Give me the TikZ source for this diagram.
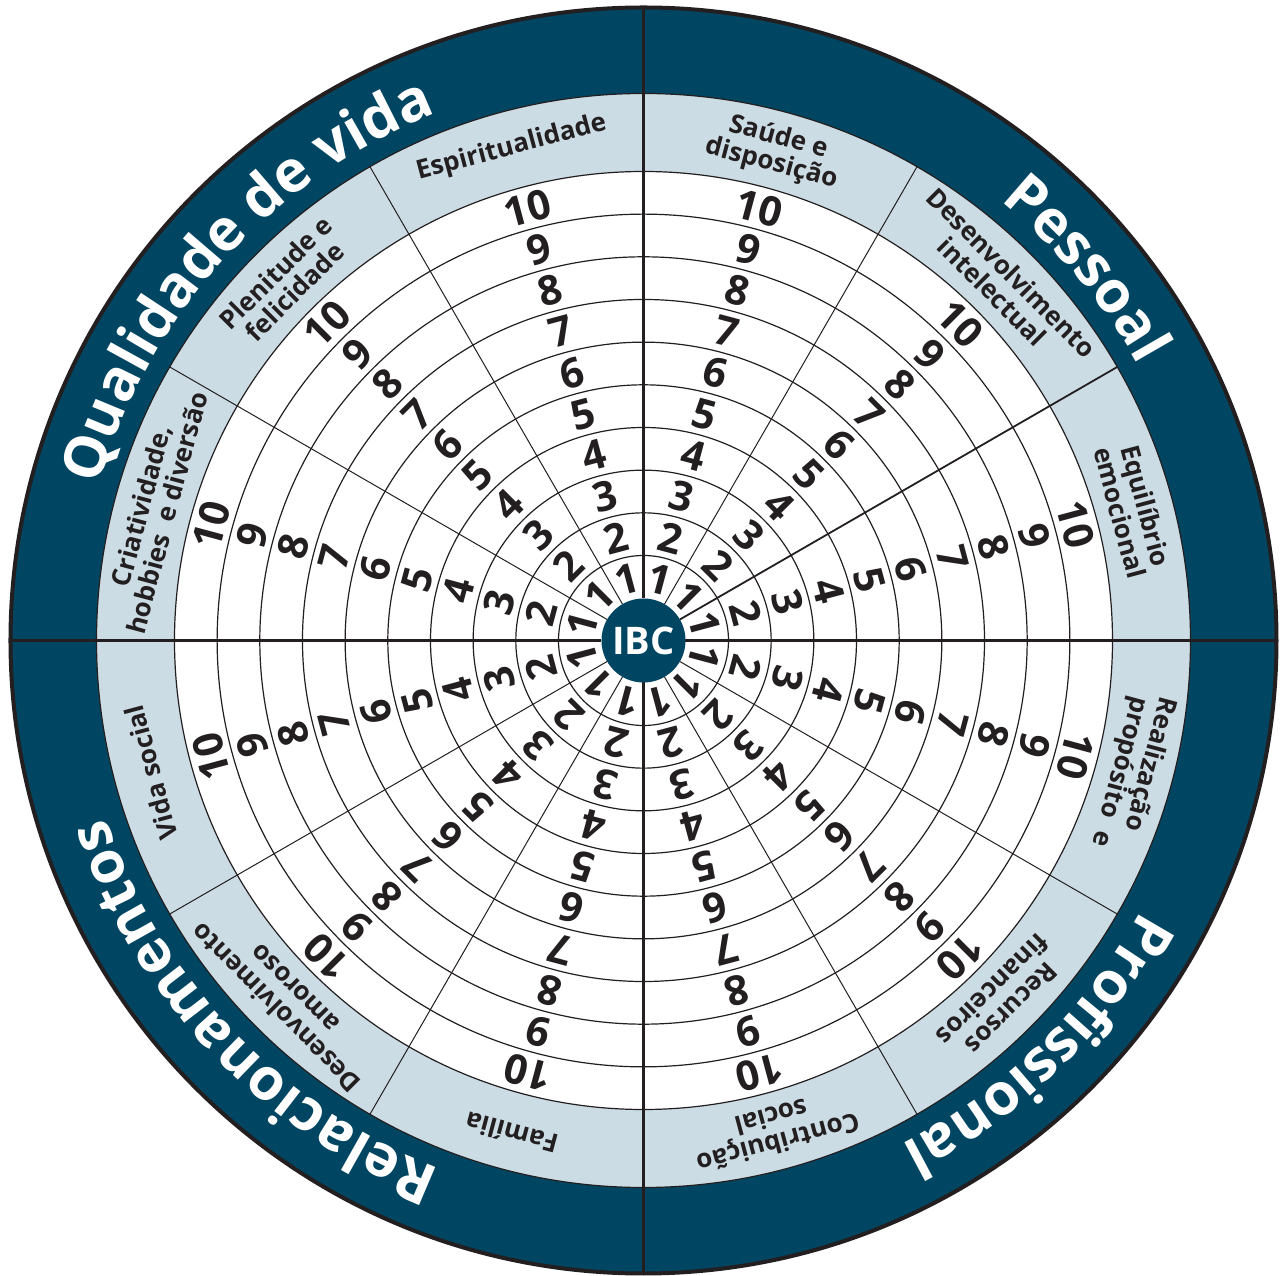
\documentclass[tikz,border=0pt]{standalone}
\usepackage{fontspec}
\setmainfont{Open Sans}
\usetikzlibrary{decorations.text}
\definecolor{wheelblue}{RGB}{0,70,98}
\definecolor{wheellight}{RGB}{204,220,228}
\definecolor{wheelink}{RGB}{35,31,32}
\newcommand\quadfont{\color{white}\fontsize{58}{58}\selectfont\bfseries}
\tikzset{
  num/.style={font=\fontsize{41}{41}\selectfont\bfseries, text=wheelink, inner sep=0pt},
  area/.style={font=\fontsize{26}{27}\selectfont\bfseries, text=wheelink, align=center, inner sep=0pt},
  ring/.style={draw=wheelink, line width=1.2pt},
  quad/.style={decorate, decoration={text along path, text align=center, text={|\quadfont|#1}}},
}

\begin{document}
\begin{tikzpicture}[x=1pt,y=1pt]
    %% Define constants
    \def\Rout{633}
    \def\Rdark{547}
    \def\Rlight{469}
    \def\Rhub{42}
    \def\Rone{85}
    \def\dr{42.67}
    \def\Rtext{566}
    \def\Rlab{507}
    \useasboundingbox (-643.5,-635.5) rectangle (642.5,640.5);
    \coordinate (O) at (0,0);
    %% Draw the rings
    \fill[wheelblue] (O) circle (\Rout);
    \draw[ring, fill=wheellight] (O) circle (\Rdark);
    \draw[ring, fill=white] (O) circle (\Rlight);
    \foreach \k in {0,...,8}
      \draw[ring] (O) circle (\Rone+\k*\dr);
    \draw[draw=wheelink, line width=4pt] (O) circle (\Rout);
    %% Draw the spokes
    \foreach \a in {60,120,150,210,240,300,330}
      \draw[wheelink, line width=1pt] (\a:\Rhub) -- (\a:\Rdark);
    \draw[wheelink, line width=1.8pt] (30:\Rhub) -- (30:\Rdark);
    \foreach \a in {0,90,180,270}
      \draw[wheelink, line width=2.2pt] (\a:\Rhub) -- (\a:\Rout);
    \node[circle, fill=wheelblue, minimum size=84pt, inner sep=0pt, text=white,
          font=\fontsize{38}{38}\selectfont\bfseries] (hub) at (O) {IBC};
    %% Scale numbers 1..10 in every sector
    \foreach \s in {0,...,11} {
      \pgfmathsetmacro\ang{15+30*\s}
      \pgfmathsetmacro\rot{\ang-90}
      \node[num, rotate=\rot] (n-\s-1) at (\ang:63) {1};
      \foreach \k in {2,...,10} {
        \pgfmathsetmacro\rad{\Rone+(\k-1.5)*\dr}
        \node[num, rotate=\rot] (n-\s-\k) at (\ang:\rad) {\k};
      }
    }
    %% Sector labels
    \node[area, rotate=-15]  (saude)    at (75:\Rlab)   {Saúde e\\disposição};
    \node[area, rotate=-45]  (intelect) at (45:\Rlab)   {Desenvolvimento\\intelectual};
    \node[area, rotate=-75]  (emocao)   at (15:\Rlab)   {Equilíbrio\\emocional};
    \node[area, rotate=-105, align=left] (proposito) at (-15:\Rlab)
         {Realização\\\hspace*{7pt}propósito\hspace{14pt}e};
    \node[area, rotate=-135] (financas) at (-45:\Rlab)  {Recursos\\financeiros};
    \node[area, rotate=-165] (social)   at (-75:\Rlab)  {Contribuição\\social};
    \node[area, rotate=165]  (familia)  at (-105:510)   {Família};
    \node[area, rotate=135]  (amoroso)  at (-135:\Rlab) {Desenvolvimento\\amoroso};
    \node[area, rotate=105]  (vidasoc)  at (-165:510)   {Vida social};
    \node[area, rotate=75]   (hobbies)  at (165:\Rlab)  {Criatividade,\\hobbies\ \ e diversão};
    \node[area, rotate=45]   (plenitude) at (135:\Rlab) {Plenitude e\\felicidade};
    \node[area, rotate=15]   (espirito) at (105:510)    {Espiritualidade};
    %% Quadrant titles along the dark ring
    \path[quad=Pessoal] (85:\Rtext) arc[start angle=85, end angle=-5, radius=\Rtext];
    \path[quad=Profissional] (-0.7:\Rtext) arc[start angle=-0.7, end angle=-90.7, radius=\Rtext];
    \path[quad=Relacionamentos] (-91.4:\Rtext) arc[start angle=-91.4, end angle=-181.4, radius=\Rtext];
    \path[quad=Qualidade de vida] (182.8:\Rtext) arc[start angle=182.8, end angle=92.8, radius=\Rtext];
\end{tikzpicture}
\end{document}
